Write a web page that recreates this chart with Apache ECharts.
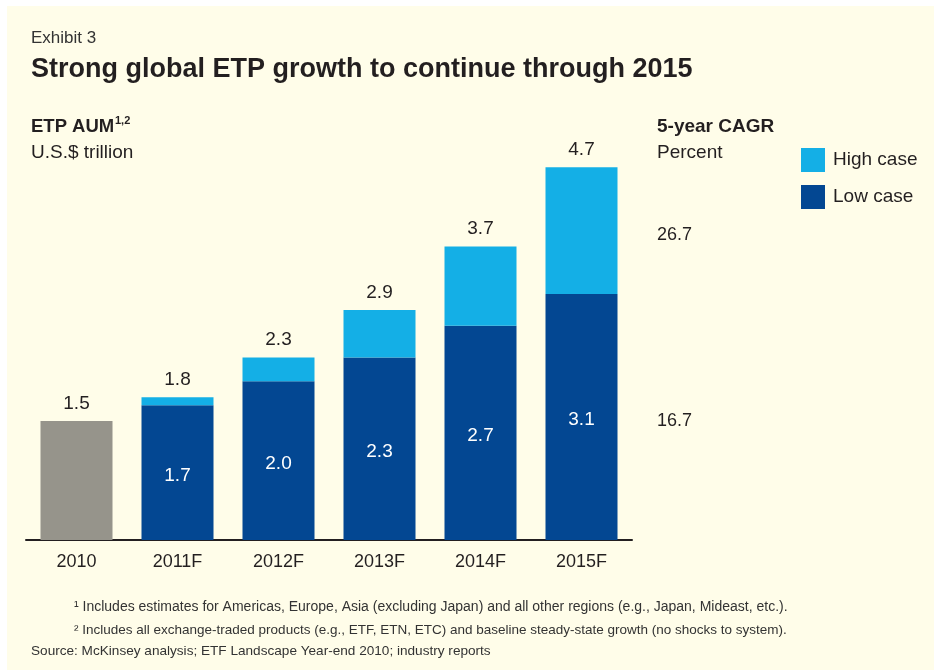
<!DOCTYPE html>
<html lang="en">
<head>
    <meta charset="UTF-8"/>
    <title>Strong global ETP growth</title>
    <script src="https://cdn.jsdelivr.net/npm/echarts@6/dist/echarts.min.js"></script>
    <style>
        html, body { margin: 0; padding: 0; background: #fffde9; }
        #chart { position: absolute; left: 0; top: 0; width: 934px; height: 670px; }
    </style>
</head>
<body>
<div id="chart"></div>
<script type="text/javascript">
    var years = ['2010', '2011F', '2012F', '2013F', '2014F', '2015F'];
    var actual2010 = 1.5;
    var lowCase = [1.7, 2.0, 2.3, 2.7, 3.1];
    var highCase = [1.8, 2.3, 2.9, 3.7, 4.7];
    var cagr = ['26.7', '16.7'];

    var font = '"Liberation Sans", Arial, Helvetica, sans-serif';
    var ink = '#231f20';
    var note = '#333333';

    // low series: 2010 actual (grey) + low case
    var lowData = [{
        value: actual2010,
        itemStyle: {color: '#96948b'},
        label: {position: 'top', color: ink, distance: 8, offset: [0, 0]}
    }].concat(lowCase);

    // high series stacked on top = high - low
    var highData = ['-'].concat(highCase.map(function (v, i) {
        return +(v - lowCase[i]).toFixed(1);
    }));

    function txt(x, y, s, f, color) {
        return {type: 'text', x: x, y: y, style: {text: s, font: f + ' ' + font, fill: color || ink, verticalAlign: 'middle'}};
    }

    var myChart = echarts.init(document.getElementById('chart'));
    var option = {
        backgroundColor: '#fffde9',
        animation: false,
        textStyle: {fontFamily: font},
        grid: {left: 26, width: 606, top: 64, bottom: 130, containLabel: false},
        legend: {
            orient: 'vertical',
            left: 801, top: 148, padding: 0,
            itemWidth: 24, itemHeight: 24, itemGap: 13,
            icon: 'rect',
            data: ['High case', 'Low case'],
            textStyle: {fontSize: 19, color: ink, fontFamily: font, padding: [0, 0, 0, 3]}
        },
        xAxis: {
            type: 'category',
            data: years,
            axisLine: {lineStyle: {color: ink, width: 2}},
            axisTick: {show: false},
            axisLabel: {fontSize: 18, color: ink, margin: 13, fontFamily: font}
        },
        yAxis: {
            type: 'value', min: 0, max: 6, show: false,
            splitLine: {show: false}
        },
        series: [{
            name: 'Low case',
            type: 'bar',
            stack: 'aum',
            barWidth: 72,
            data: lowData,
            itemStyle: {color: '#034792'},
            label: {
                show: true, position: 'inside', offset: [0, 3],
                color: '#ffffff', fontSize: 19, fontFamily: font,
                formatter: function (p) { return p.value.toFixed(1); }
            }
        }, {
            name: 'High case',
            type: 'bar',
            stack: 'aum',
            barWidth: 72,
            data: highData,
            itemStyle: {color: '#14afe6'},
            label: {
                show: true, position: 'top', distance: 8,
                color: ink, fontSize: 19, fontFamily: font,
                formatter: function (p) { return highCase[p.dataIndex - 1].toFixed(1); }
            }
        }],
        graphic: [
            {type: 'rect', shape: {x: 0, y: 0, width: 934, height: 6}, style: {fill: '#ffffff'}},
            {type: 'rect', shape: {x: 0, y: 0, width: 7, height: 670}, style: {fill: '#ffffff'}},
            txt(31, 38, 'Exhibit 3', '17px', note),
            txt(31, 70, 'Strong global ETP growth to continue through 2015', 'bold 27px'),
            txt(31, 127, 'ETP AUM', 'bold 18.5px'),
            txt(115, 121, '1,2', 'bold 11px'),
            txt(31, 153, 'U.S.$ trillion', '19px'),
            txt(657, 127, '5-year CAGR', 'bold 19px'),
            txt(657, 153, 'Percent', '19px'),
            txt(657, 235, cagr[0], '18px'),
            txt(657, 421, cagr[1], '18px'),
            txt(74, 607, '\u00b9 Includes estimates for Americas, Europe, Asia (excluding Japan) and all other regions (e.g., Japan, Mideast, etc.).', '14px', note),
            txt(74, 630, '\u00b2 Includes all exchange-traded products (e.g., ETF, ETN, ETC) and baseline steady-state growth (no shocks to system).', '13.5px', note),
            txt(31, 651, 'Source: McKinsey analysis; ETF Landscape Year-end 2010; industry reports', '13.6px', note)
        ]
    };
    myChart.setOption(option);
</script>
</body>
</html>
